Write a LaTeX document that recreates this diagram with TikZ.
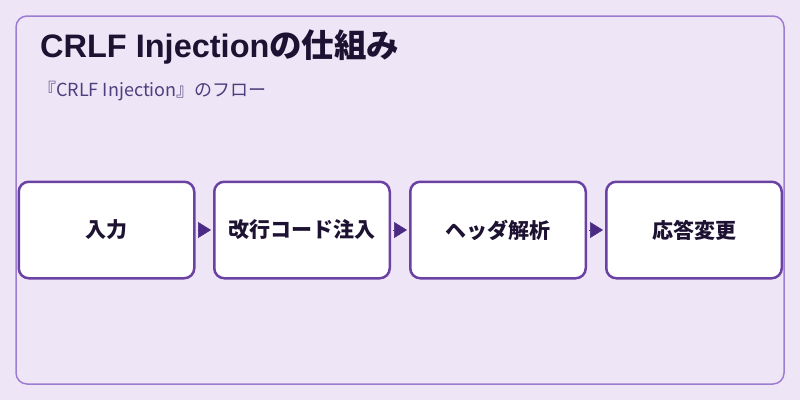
\documentclass[tikz,border=0pt]{standalone}
\usepackage{fontspec}
\setmainfont{Noto Sans CJK JP}
\newfontfamily\latinbold{Liberation Sans}
\usetikzlibrary{arrows.meta}
\definecolor{bgpurple}{HTML}{EEE6F6}
\definecolor{framepurple}{HTML}{9C7DCF}
\definecolor{boxpurple}{HTML}{6B42A3}
\definecolor{arrowpurple}{HTML}{4B2A85}
\definecolor{titleink}{HTML}{1E1233}
\definecolor{subink}{HTML}{4E3E7E}
\begin{document}
\begin{tikzpicture}[x=1pt, y=-1pt,
  stage/.style={draw=boxpurple, fill=white, line width=2.5pt, rounded corners=10pt, minimum width=175.5pt, minimum height=96.5pt, text=titleink, font=\fontsize{21}{25}\selectfont\bfseries},
  flow/.style={-{Triangle[length=13pt, width=16pt]}, draw=arrowpurple, fill=arrowpurple, line width=0.5pt, shorten <=2pt, shorten >=2pt}]
\useasboundingbox (0,0) rectangle (800,400);
\fill [bgpurple] (0,0) rectangle (800,400);
\node (frame) at (400,200) [draw=framepurple, line width=1.5pt, rounded corners=11pt, minimum width=768pt, minimum height=368pt] {};
\node (title) at (40,57) [anchor=base west, inner sep=0pt, text=titleink, font=\fontsize{32.5}{38}\selectfont\bfseries] {{\latinbold CRLF Injection}の仕組み};
\node (subtitle) at (38,96) [anchor=base west, inner sep=0pt, text=subink, font=\fontsize{18}{21}\selectfont] {『CRLF Injection』のフロー};
\node (input) at (106.5,230) [stage] {入力};
\node (inject) at (302,230) [stage] {改行コード注入};
\node (parse) at (498,230) [stage] {ヘッダ解析};
\node (alter) at (694,230) [stage] {応答変更};
\draw [flow] (input) -- (inject);
\draw [flow] (inject) -- (parse);
\draw [flow] (parse) -- (alter);
\end{tikzpicture}
\end{document}
